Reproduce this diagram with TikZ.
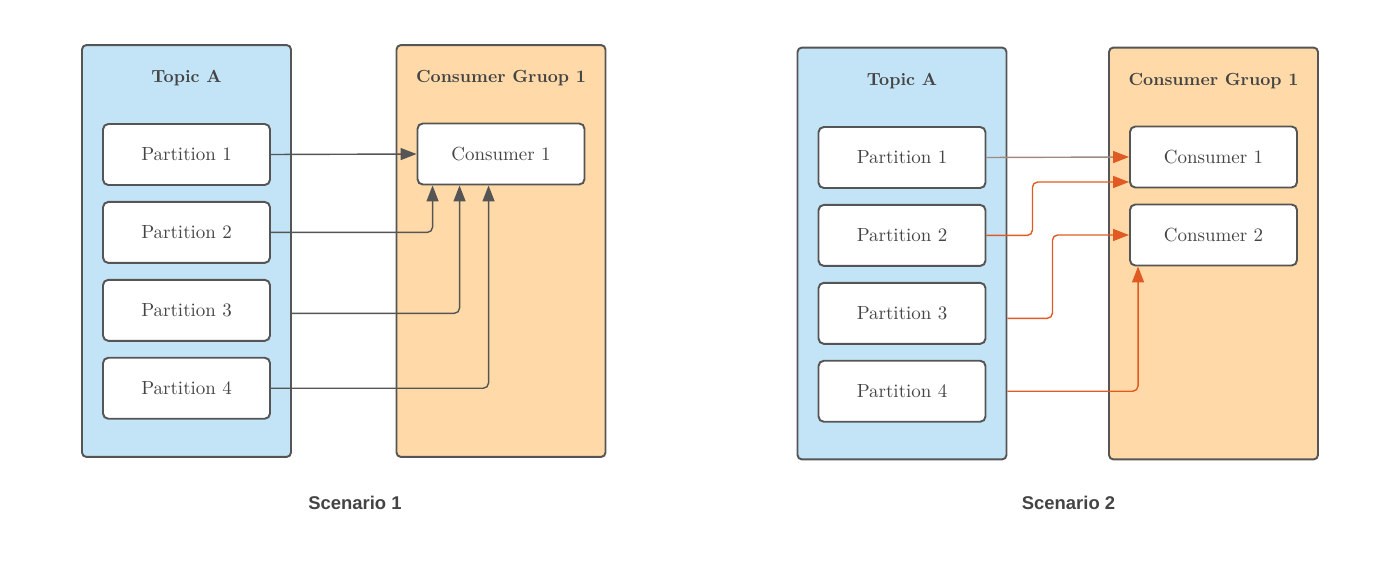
\documentclass[tikz,border=0pt]{standalone}
\usepackage{fontspec}
\newfontfamily\scenfont{Liberation Sans}
\usetikzlibrary{positioning,calc,arrows.meta}

\definecolor{topicblue}{HTML}{C3E4F6}
\definecolor{groupsand}{HTML}{FFDAA8}
\definecolor{edgegray}{HTML}{555555}
\definecolor{inkgray}{HTML}{444444}
\definecolor{linkred}{HTML}{E05A24}
\definecolor{linkbrown}{HTML}{A08A80}

\tikzset{
  panel/.style={draw=edgegray, line width=1.1pt, rounded corners=2.5pt, minimum width=4.18cm, minimum height=8.24cm, inner sep=0pt},
  topic/.style={panel, fill=topicblue},
  group/.style={panel, fill=groupsand},
  title/.style={font=\bfseries\fontsize{10}{12}\selectfont, text=inkgray},
  part/.style={draw=edgegray, fill=white, line width=1.1pt, rounded corners=3pt, minimum width=3.34cm, minimum height=1.22cm, inner sep=0pt, font=\fontsize{10.8}{12}\selectfont, text=inkgray},
  scen/.style={font=\scenfont\bfseries\fontsize{10.5}{12}\selectfont, text=inkgray},
  link/.style={draw=edgegray, line width=0.8pt, rounded corners=3pt, -{Triangle[length=0.32cm,width=0.24cm]}},
  hotlink/.style={link, draw=linkred, -{Triangle[length=0.32cm,width=0.24cm,color=linkred]}}
}

\begin{document}
\begin{tikzpicture}[x=0.02cm,y=-0.02cm]
  \useasboundingbox (0,0) rectangle (1400,581);

  % scenario 1
  \node[topic] (topic1) at (186.5,251) {};
  \node[title] (topic1t) at (186.5,78) {Topic A};
  \node[group] (group1) at (501,251) {};
  \node[title] (group1t) at (501,78) {Consumer Gruop 1};
  \node[part] (p1) at (186.5,154.5) {Partition 1};
  \node[part, below=0.3cm of p1] (p2) {Partition 2};
  \node[part, below=0.3cm of p2] (p3) {Partition 3};
  \node[part, below=0.3cm of p3] (p4) {Partition 4};
  \node[part] (c1) at (501,154) {Consumer 1};

  \draw[link] (p1.east) -- (c1.west);
  \draw[link] (p2.east) -| ($(c1.south west)+(16,0)$);
  \draw[link] ($(p3.east -| topic1.east)+(0,3)$) -| ($(c1.south west)+(43,0)$);
  \draw[link] (p4.east) -| ($(c1.south west)+(72,0)$);

  \node[scen] (scen1) at (355,503) {Scenario 1};

  % scenario 2
  \node[topic] (topic2) at (902,253.5) {};
  \node[title] (topic2t) at (902,81) {Topic A};
  \node[group] (group2) at (1213.5,253.5) {};
  \node[title] (group2t) at (1213.5,81) {Consumer Gruop 1};
  \node[part] (q1) at (902,157.5) {Partition 1};
  \node[part, below=0.3cm of q1] (q2) {Partition 2};
  \node[part, below=0.3cm of q2] (q3) {Partition 3};
  \node[part, below=0.3cm of q3] (q4) {Partition 4};
  \node[part] (d1) at (1213.5,157) {Consumer 1};
  \node[part] (d2) at (1213.5,235) {Consumer 2};

  \draw[hotlink, draw=linkbrown] (q1.east) -- (d1.west);
  \draw[hotlink] (q2.east) -- ++(46,0) |- ($(d1.west)+(0,25)$);
  \draw[hotlink] ($(q3.east -| topic2.east)+(0,5)$) -- ++(45,0) |- (d2.west);
  \draw[hotlink] (q4.east -| topic2.east) -| ($(d2.south west)+(9,0)$);

  \node[scen] (scen2) at (1068.5,503) {Scenario 2};
\end{tikzpicture}
\end{document}
